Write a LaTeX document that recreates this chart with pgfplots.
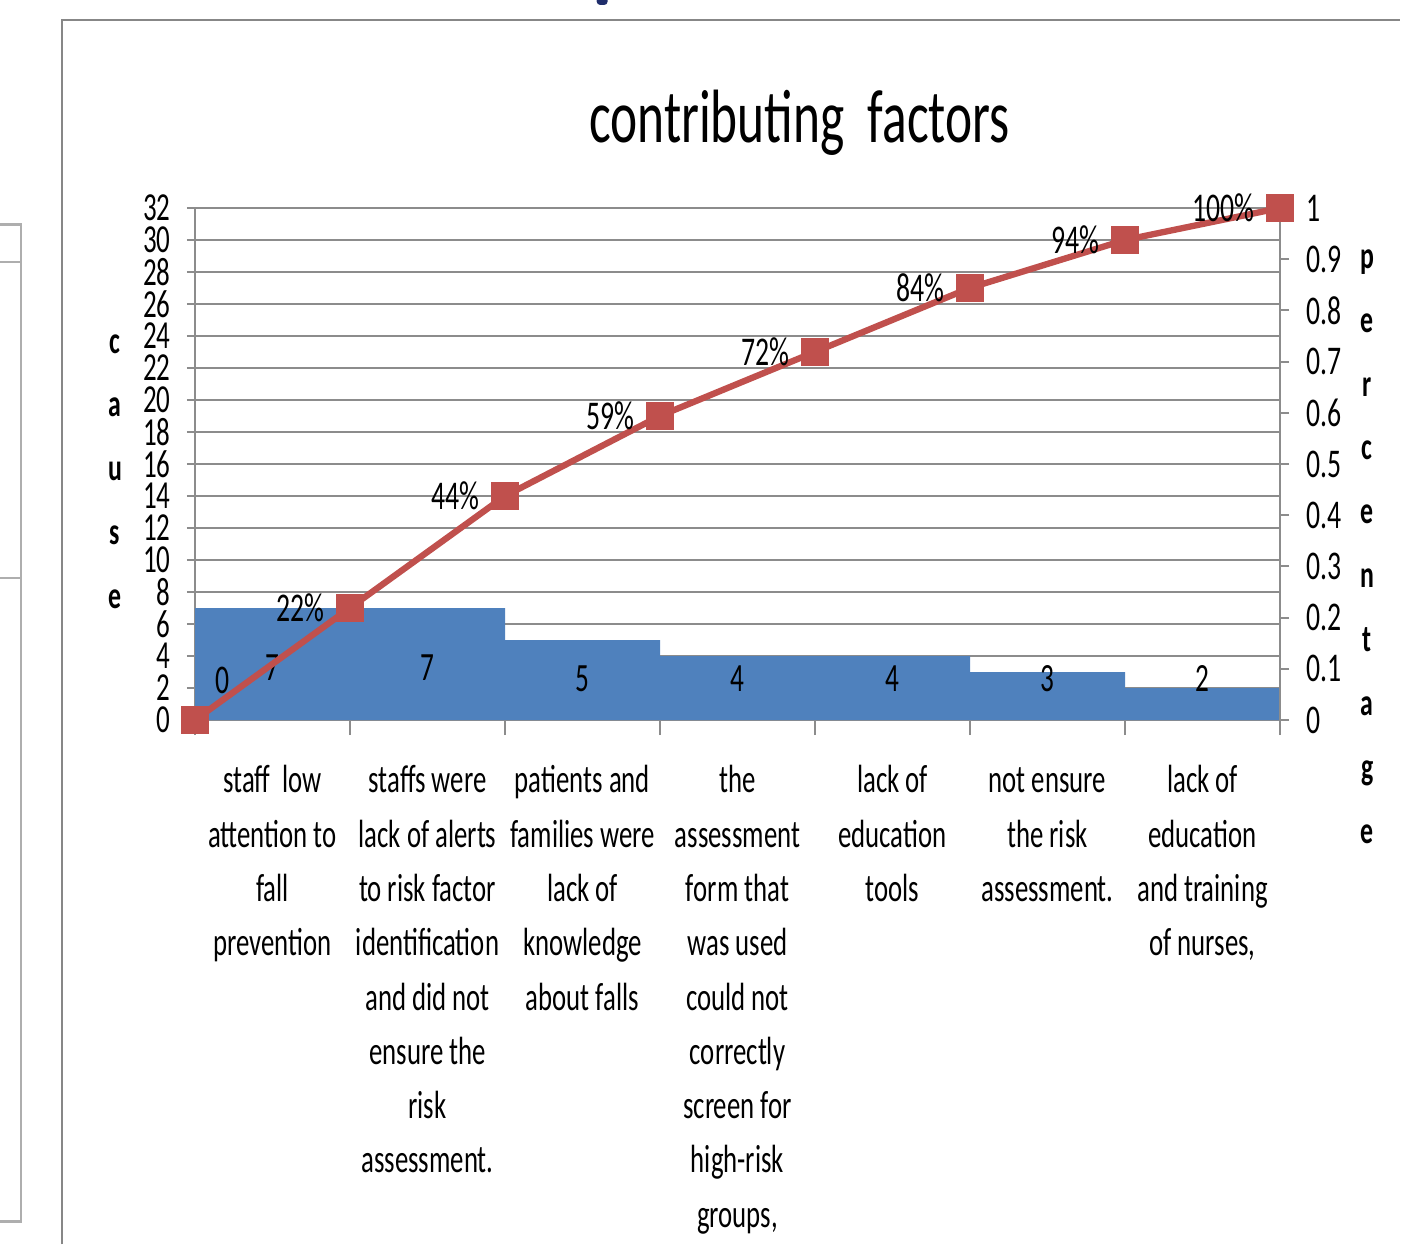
\documentclass[border=0pt]{standalone}
\usepackage{pgfplots}
\pgfplotsset{compat=1.18}
\usepackage{fontspec}
\setmainfont{Carlito}[FakeStretch=0.68]
\definecolor{barblue}{HTML}{4F81BD}
\definecolor{linered}{HTML}{C0504D}
\definecolor{gridc}{RGB}{140,140,140}
\definecolor{framec}{RGB}{135,135,135}
\definecolor{navyc}{HTML}{1F2D6B}
\begin{document}
\begin{tikzpicture}
\useasboundingbox (0,0) rectangle (14.01cm,-12.45cm);
\begin{scope}[x=0.01cm,y=-0.01cm]
% frame of chart area
\draw[framec, line width=0.8pt] (62,1245) -- (62,20) -- (1401,20);
% piece of neighbouring picture at left
\draw[gridc!70, line width=0.8pt] (0,225) -- (21,225) -- (21,1222) -- (0,1222);
\draw[gridc!70, line width=0.6pt] (0,262) -- (21,262);
\draw[gridc!70, line width=0.6pt] (0,578) -- (21,578);
% navy blob at top
\fill[navyc, rounded corners=1pt] (597,-3) rectangle (608,5);
% title
\node[font=\fontsize{21.5}{25}\selectfont, anchor=base] at (800,143) {contributing\ \ factors};
% axis titles, stacked letters
\node[font=\fontsize{10.8}{18.2}\selectfont\bfseries, align=center] at (115,472) {c\\a\\u\\s\\e};
\node[font=\fontsize{10.8}{18.2}\selectfont\bfseries, align=center] at (1368,547) {p\\e\\r\\c\\e\\n\\t\\a\\g\\e};
\end{scope}

\begin{axis}[
  at={(1.95cm,-7.20cm)}, anchor=south west,
  scale only axis, width=10.85cm, height=5.12cm,
  xmin=0, xmax=7, ymin=0, ymax=32,
  axis x line=bottom, axis y line=left,
  axis line style={-, draw=gridc, line width=0.6pt},
  tick align=outside,
  tick style={gridc, line width=0.6pt},
  ytick={0,2,...,32},
  ymajorgrids, grid style={gridc, line width=0.6pt},
  major tick length=2.3pt,
  xtick={0,...,7}, xticklabels={},
  xtick style={/pgfplots/major tick length=4.3pt},
  extra x ticks={0.5,1.5,2.5,3.5,4.5,5.5,6.5},
  extra x tick style={major tick length=0pt, tick style={draw=none}, grid=none,
    xticklabel style={anchor=north, align=center, inner sep=0pt, yshift=-9.7pt,
      font=\fontsize{11.2}{15.45}\selectfont}},
  extra x tick labels={
    {\strut staff\ \ low\\attention to\\fall\\prevention},
    {\strut staffs were\\lack of alerts\\to risk factor\\identification\\and did not\\ensure the\\risk\\assessment.},
    {\strut patients and\\families were\\lack of\\knowledge\\about falls},
    {\strut the\\assessment\\form that\\was used\\could not\\correctly\\screen for\\high-risk\\groups,},
    {\strut lack of\\education\\tools},
    {\strut not ensure\\the risk\\assessment.},
    {\strut lack of\\education\\and training\\of nurses,}},
  yticklabel style={font=\fontsize{11.3}{11.3}\selectfont, inner sep=0pt, xshift=-4.5pt, /pgf/number format/assume math mode=true},
  clip=false,
]
\addplot[ybar interval, fill=barblue, draw=none] coordinates {
  (0,7) (1,7) (2,5) (3,4) (4,4) (5,3) (6,2) (7,2)};
\addplot[draw=none, mark=none, nodes near coords, point meta=explicit symbolic,
  every node near coord/.append style={anchor=center, font=\fontsize{11.4}{12}\selectfont}]
  coordinates {(0.5,3.25)[7] (1.5,3.25)[7] (2.5,2.6)[5] (3.5,2.6)[4] (4.5,2.6)[4] (5.5,2.6)[3] (6.5,2.6)[2]};
\end{axis}

\begin{axis}[
  at={(1.95cm,-7.20cm)}, anchor=south west,
  scale only axis, width=10.85cm, height=5.12cm,
  xmin=0, xmax=7, ymin=0, ymax=1,
  axis x line=none, axis y line=right,
  axis line style={-, draw=gridc, line width=0.6pt},
  tick align=outside,
  tick style={gridc, line width=0.6pt},
  major tick length=2.6pt,
  ytick={0,0.1,0.2,0.3,0.4,0.5,0.6,0.7,0.8,0.9,1},
  yticklabel style={font=\fontsize{11.6}{11.6}\selectfont, inner sep=0pt, xshift=4.8pt, /pgf/number format/assume math mode=true},
  clip=false,
]
\addplot[linered, line width=1.8pt, mark=square*, mark size=3.8pt,
  mark options={fill=linered, draw=linered, line width=0pt}]
  coordinates {(0,0) (1,0.219) (2,0.4375) (3,0.594) (4,0.719) (5,0.844) (6,0.9375) (7,1)};
\addplot[draw=none, mark=none, nodes near coords, point meta=explicit symbolic,
  every node near coord/.append style={anchor=east, inner sep=0pt, xshift=-7pt, font=\fontsize{11.6}{12}\selectfont}]
  coordinates {(1,0.219)[22\%] (2,0.4375)[44\%] (3,0.594)[59\%] (4,0.719)[72\%] (5,0.844)[84\%] (6,0.9375)[94\%] (7,1)[100\%]};
\addplot[draw=none, mark=none, nodes near coords, point meta=explicit symbolic,
  every node near coord/.append style={anchor=center, inner sep=0pt, xshift=7.7pt, yshift=11.4pt, font=\fontsize{11.6}{12}\selectfont}]
  coordinates {(0,0)[0]};
\end{axis}
\end{tikzpicture}
\end{document}
